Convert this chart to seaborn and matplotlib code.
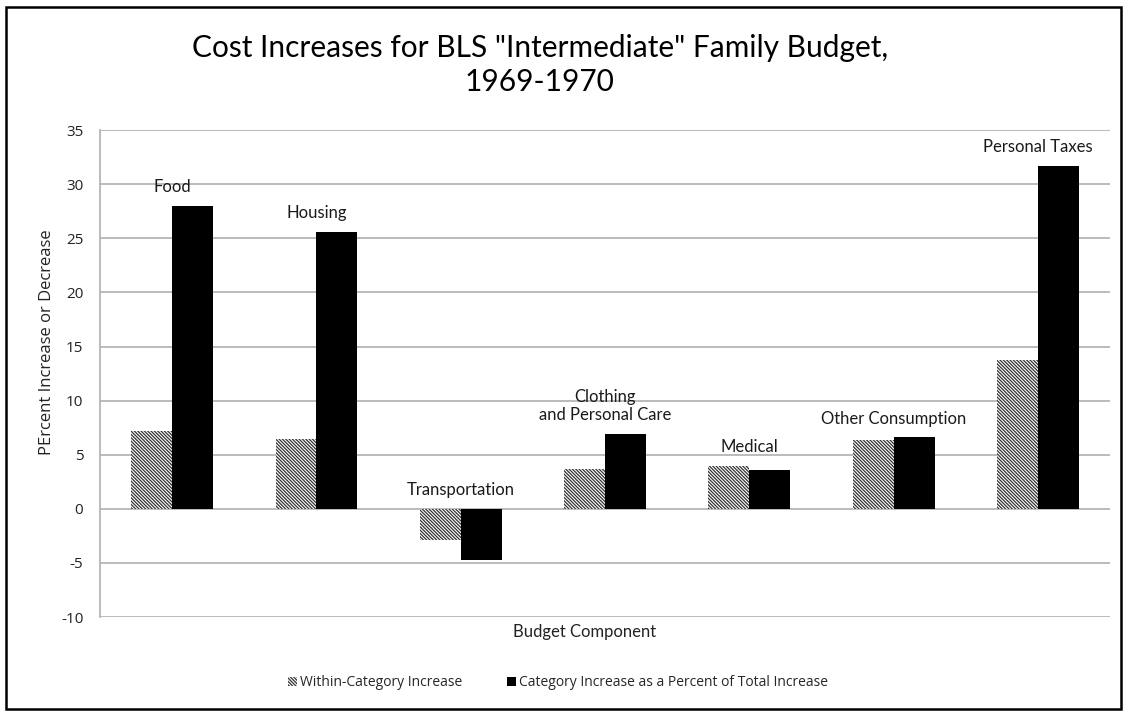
import pandas as pd
import matplotlib
matplotlib.use('Agg')
import matplotlib.pyplot as plt
import seaborn as sns
from matplotlib.patches import Patch, Rectangle

# Datos
categorias = ['Food', 'Housing', 'Transportation', 'Clothing\nand Personal Care',
              'Medical', 'Other Consumption', 'Personal Taxes']
dentro_categoria = [7.2, 6.5, -2.9, 3.7, 4.0, 6.4, 13.8]
porcentaje_total = [28.0, 25.6, -4.7, 6.9, 3.6, 6.6, 31.7]
series = ['Within-Category Increase', 'Category Increase as a Percent of Total Increase']
y_ticks = [-10, -5, 0, 5, 10, 15, 20, 25, 30, 35]

df = pd.DataFrame({
    'categoria': categorias * 2,
    'serie': [series[0]] * len(categorias) + [series[1]] * len(categorias),
    'valor': dentro_categoria + porcentaje_total,
})

sns.set_style('white')
plt.rcParams['font.family'] = ['Lato', 'DejaVu Sans']
plt.rcParams['hatch.linewidth'] = 0.9

RAYADO = '\\' * 10

fig = plt.figure(figsize=(11.27, 7.15), dpi=100)
ax = fig.add_axes([0.0887, 0.137, 0.8963, 0.681])

sns.barplot(data=df, x='categoria', y='valor', hue='serie', order=categorias,
            hue_order=series, palette=['white', 'black'], width=0.567, gap=0,
            saturation=1, ax=ax, legend=False, zorder=3)

# Rayado de la primera serie
n = len(categorias)
for barra in ax.patches[:n]:
    barra.set_hatch(RAYADO)
    barra.set_edgecolor('#333333')
    barra.set_linewidth(0)
for barra in ax.patches[n:2 * n]:
    barra.set_edgecolor('black')
    barra.set_linewidth(0)

# Etiquetas de cada categoria sobre las barras
for i, cat in enumerate(categorias):
    tope = max(0, dentro_categoria[i], porcentaje_total[i])
    ax.text(i, tope + 1.0, cat, ha='center', va='bottom', fontsize=12,
            color='#1a1a1a', linespacing=1.15)

ax.set_ylim(-10, 35)
ax.set_xlim(-0.5, n - 0.5)
ax.set_yticks(y_ticks)
ax.set_yticklabels([str(t) for t in y_ticks], family=['Open Sans', 'DejaVu Sans'],
                   fontsize=11, color='#222222')
ax.set_xticks([])
ax.grid(True, axis='y', color='#b5b5b5', linewidth=1.3, zorder=0)
ax.set_axisbelow(True)
for lado in ['top', 'right', 'bottom']:
    ax.spines[lado].set_visible(False)
ax.spines['left'].set_color('#b5b5b5')
ax.spines['left'].set_linewidth(1.3)
ax.tick_params(axis='y', direction='out', length=5, width=1.2, color='#b5b5b5', pad=7)

ax.set_ylabel('PErcent Increase or Decrease', family=['Open Sans', 'DejaVu Sans'],
              fontsize=12, color='#222222')
ax.yaxis.set_label_coords(-0.045, 0.565)
ax.set_xlabel('Budget Component', fontsize=12, color='#222222')
ax.xaxis.set_label_coords(0.48, -0.015)
ax.xaxis.label.set_va('top')

fig.suptitle('Cost Increases for BLS "Intermediate" Family Budget,\n1969-1970',
             x=0.479, y=0.952, fontsize=21.5, color='black', linespacing=1.25)

manijas = [Patch(facecolor='white', edgecolor='#333333', hatch=RAYADO, linewidth=0),
           Patch(facecolor='black', edgecolor='black', linewidth=0)]
fig.legend(handles=manijas, labels=series, loc='center', bbox_to_anchor=(0.495, 0.045),
           ncol=2, frameon=False, handlelength=0.65, handleheight=0.65, handletextpad=0.2,
           columnspacing=3.2, prop={'family': ['Open Sans', 'DejaVu Sans'], 'size': 10})

# Marco exterior
fig.patches.append(Rectangle((0.005, 0.008), 0.99, 0.982, transform=fig.transFigure,
                             fill=False, edgecolor='black', linewidth=1.8))

fig.savefig('out.png', dpi=100)
